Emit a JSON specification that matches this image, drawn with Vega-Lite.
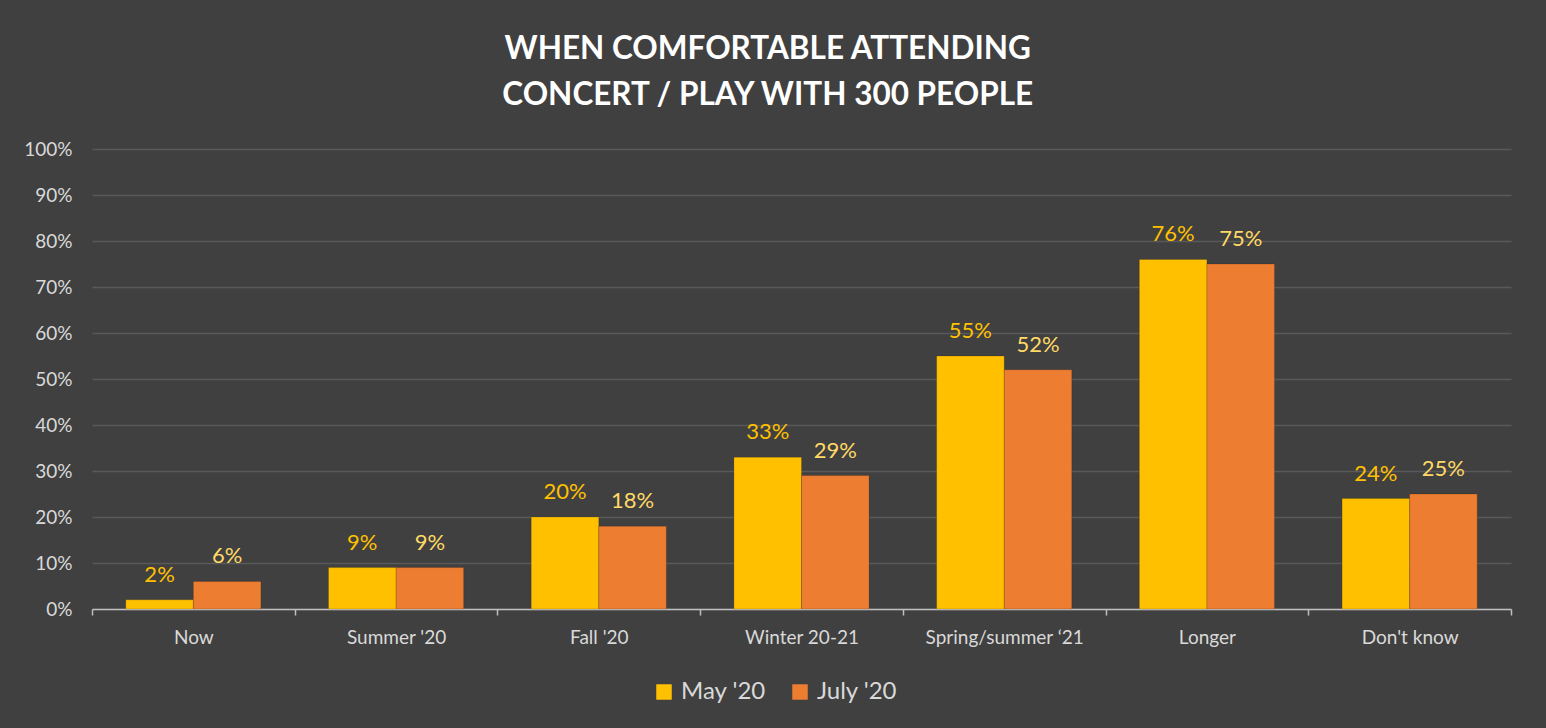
{
  "$schema": "https://vega.github.io/schema/vega-lite/v6.json",
  "autosize": {"type": "none"},
  "width": 1419,
  "height": 460,
  "padding": {"left": 92, "top": 149, "right": 35, "bottom": 119},
  "background": "#404040",
  "title": {
    "text": ["WHEN COMFORTABLE ATTENDING", "CONCERT / PLAY WITH 300 PEOPLE"],
    "font": "Lato",
    "fontSize": 31.5,
    "fontWeight": "bold",
    "color": "#FFFFFF",
    "anchor": "middle",
    "frame": "bounds",
    "lineHeight": 46,
    "offset": 29
  },
  "data": {
    "values": [
      {"cat": "Now", "series": "May '20", "value": 0.02},
      {"cat": "Now", "series": "July '20", "value": 0.06},
      {"cat": "Summer '20", "series": "May '20", "value": 0.09},
      {"cat": "Summer '20", "series": "July '20", "value": 0.09},
      {"cat": "Fall '20", "series": "May '20", "value": 0.20},
      {"cat": "Fall '20", "series": "July '20", "value": 0.18},
      {"cat": "Winter 20-21", "series": "May '20", "value": 0.33},
      {"cat": "Winter 20-21", "series": "July '20", "value": 0.29},
      {"cat": "Spring/summer ‘21", "series": "May '20", "value": 0.55},
      {"cat": "Spring/summer ‘21", "series": "July '20", "value": 0.52},
      {"cat": "Longer", "series": "May '20", "value": 0.76},
      {"cat": "Longer", "series": "July '20", "value": 0.75},
      {"cat": "Don't know", "series": "May '20", "value": 0.24},
      {"cat": "Don't know", "series": "July '20", "value": 0.25}
    ]
  },
  "encoding": {
    "x": {
      "field": "cat",
      "type": "nominal",
      "sort": ["Now", "Summer '20", "Fall '20", "Winter 20-21", "Spring/summer ‘21", "Longer", "Don't know"],
      "scale": {"paddingInner": 0, "paddingOuter": 0},
      "axis": {
        "title": null,
        "labelAngle": 0,
        "labelFont": "Lato",
        "labelFontSize": 19,
        "labelColor": "#D9D9D9",
        "labelPadding": 13,
        "domainColor": "#BFBFBF",
        "domainWidth": 1.5,
        "tickColor": "#BFBFBF",
        "tickWidth": 1.5,
        "tickSize": 6,
        "tickBand": "extent",
        "grid": false
      }
    },
    "xOffset": {
      "field": "series",
      "type": "nominal",
      "sort": ["May '20", "July '20"],
      "scale": {"paddingInner": 0, "paddingOuter": 0.5}
    },
    "y": {
      "field": "value",
      "type": "quantitative",
      "scale": {"domain": [0, 1]},
      "axis": {
        "title": null,
        "format": ".0%",
        "values": [0, 0.1, 0.2, 0.3, 0.4, 0.5, 0.6, 0.7, 0.8, 0.9, 1],
        "labelFont": "Lato",
        "labelFontSize": 19,
        "labelColor": "#D9D9D9",
        "labelPadding": 20,
        "domain": false,
        "ticks": false,
        "grid": true,
        "gridColor": "#595959",
        "gridWidth": 1.5
      }
    }
  },
  "layer": [
    {
      "mark": {"type": "bar", "stroke": "#000000", "strokeOpacity": 0.15, "strokeWidth": 1},
      "encoding": {
        "color": {
          "field": "series",
          "type": "nominal",
          "scale": {"domain": ["May '20", "July '20"], "range": ["#FFC000", "#ED7D31"]},
          "legend": {
            "title": null,
            "orient": "none",
            "legendX": 560,
            "legendY": 531,
            "direction": "horizontal",
            "symbolType": "square",
            "symbolSize": 240,
            "symbolStrokeWidth": 0,
            "labelFont": "Lato",
            "labelFontSize": 24,
            "labelColor": "#D9D9D9",
            "labelOffset": 5,
            "columnPadding": 22
          }
        }
      }
    },
    {
      "mark": {"type": "text", "baseline": "alphabetic", "dy": -18, "font": "Lato", "fontSize": 22},
      "encoding": {
        "text": {"field": "value", "type": "quantitative", "format": ".0%"},
        "fill": {
          "field": "series",
          "type": "nominal",
          "scale": {"domain": ["May '20", "July '20"], "range": ["#FFC000", "#FFD966"]},
          "legend": null
        }
      }
    }
  ],
  "config": {
    "view": {"stroke": null}
  }
}
